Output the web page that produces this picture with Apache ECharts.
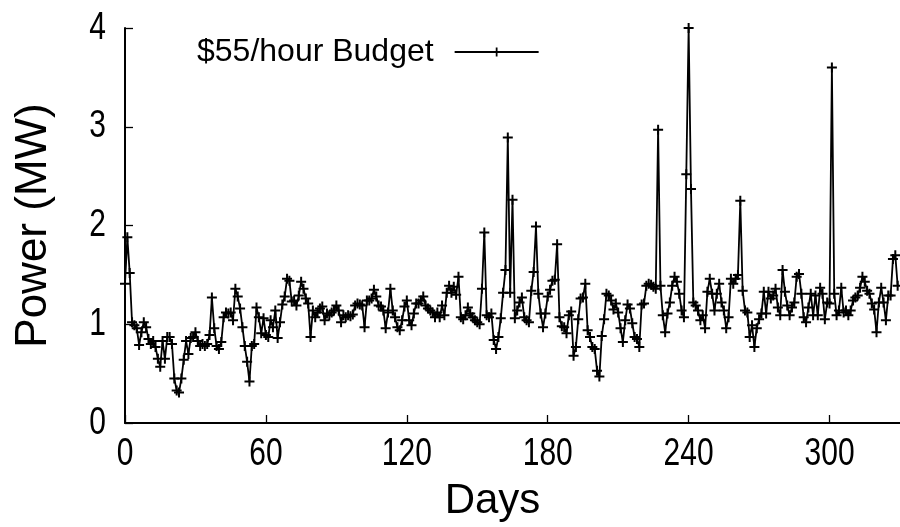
<!DOCTYPE html>
<html>
<head>
<meta charset="utf-8">
<script src="https://cdn.jsdelivr.net/npm/echarts@6/dist/echarts.min.js"></script>
<style>
  html, body { margin: 0; padding: 0; background: #ffffff; }
  #chart { width: 900px; height: 527px; }
</style>
</head>
<body>
<div id="chart"></div>
<script>
// Daily power draw (MW) under a $55/hour electricity budget, day 0 onward.
const seriesName = '$55/hour Budget';
const xAxisTitle = 'Days';
const yAxisTitle = 'Power (MW)';
const xTickStep = 60;
const yTickStep = 1;
const xTickLabels = ['0', '60', '120', '180', '240', '300'];
const yTickLabels = ['0', '1', '2', '3', '4'];

const power = [
  1.41, 1.88, 1.52, 1.02, 0.99, 0.96, 0.79, 0.92, 1.02, 0.97,
  0.85, 0.80, 0.83, 0.77, 0.65, 0.57, 0.83, 0.65, 0.87, 0.87,
  0.80, 0.45, 0.33, 0.31, 0.45, 0.64, 0.83, 0.70, 0.86, 0.87,
  0.92, 0.83, 0.78, 0.80, 0.78, 0.80, 0.89, 1.27, 0.96, 0.78,
  0.75, 0.82, 1.07, 1.12, 1.11, 1.12, 1.04, 1.36, 1.28, 1.16,
  0.97, 0.78, 0.62, 0.42, 0.78, 0.80, 1.17, 1.07, 0.91, 1.06,
  0.89, 0.87, 1.04, 0.97, 1.14, 0.86, 1.02, 1.20, 1.28, 1.46,
  1.44, 1.23, 1.24, 1.19, 1.29, 1.43, 1.36, 1.26, 1.21, 0.87,
  1.14, 1.07, 1.12, 1.16, 1.18, 1.04, 1.11, 1.09, 1.12, 1.14,
  1.19, 1.14, 1.02, 1.09, 1.07, 1.09, 1.08, 1.10, 1.19, 1.21,
  1.20, 1.19, 0.97, 1.24, 1.24, 1.26, 1.35, 1.28, 1.19, 1.18,
  1.14, 0.96, 1.12, 1.36, 1.14, 1.07, 0.97, 0.94, 1.04, 1.18,
  1.24, 1.04, 0.99, 1.11, 1.21, 1.21, 1.24, 1.28, 1.19, 1.16,
  1.14, 1.12, 1.07, 1.12, 1.07, 1.19, 1.09, 1.32, 1.39, 1.32,
  1.38, 1.30, 1.48, 1.07, 1.05, 1.09, 1.17, 1.11, 1.07, 1.04,
  1.02, 1.00, 1.36, 1.93, 1.09, 1.07, 1.11, 0.84, 0.75, 0.87,
  1.06, 1.32, 1.55, 2.89, 1.32, 2.26, 1.06, 1.14, 1.22, 1.27,
  1.07, 1.04, 1.02, 1.34, 1.53, 1.99, 1.31, 1.11, 0.97, 1.11,
  1.28, 1.35, 1.44, 1.45, 1.81, 1.07, 0.98, 0.97, 0.91, 1.09,
  1.13, 0.68, 0.77, 1.05, 1.26, 1.27, 1.41, 0.94, 0.87, 0.77,
  0.75, 0.53, 0.47, 0.88, 1.05, 1.31, 1.29, 1.24, 1.15, 1.21,
  1.12, 0.96, 0.82, 1.04, 1.20, 1.16, 1.01, 0.87, 0.85, 0.77,
  1.20, 1.21, 1.39, 1.41, 1.40, 1.38, 1.36, 2.97, 1.39, 1.09,
  0.92, 1.11, 1.22, 1.39, 1.48, 1.43, 1.31, 1.14, 1.07, 2.52,
  4.00, 2.37, 1.22, 1.19, 1.14, 1.04, 1.09, 0.96, 1.33, 1.46,
  1.31, 1.14, 1.31, 1.41, 1.22, 1.14, 0.96, 1.07, 1.46, 1.41,
  1.46, 1.50, 2.25, 1.34, 1.14, 1.12, 0.87, 0.99, 0.77, 0.96,
  1.05, 1.11, 1.33, 1.11, 1.33, 1.26, 1.29, 1.36, 1.17, 1.09,
  1.55, 1.33, 1.19, 1.09, 1.17, 1.22, 1.48, 1.51, 1.31, 1.07,
  1.02, 1.17, 1.31, 1.09, 1.29, 1.09, 1.37, 1.31, 1.05, 1.22,
  1.21, 3.60, 1.31, 1.09, 1.14, 1.37, 1.12, 1.14, 1.09, 1.14,
  1.24, 1.27, 1.29, 1.37, 1.48, 1.43, 1.34, 1.31, 1.21, 1.15,
  0.92, 1.22, 1.37, 1.22, 1.04, 1.29, 1.29, 1.66, 1.70, 1.39
];

const days = power.map((_, i) => i);
const xRange = [0, 330];
const yRange = [0, 4];

// "+" marker drawn as two filled bars
const plusMark = 'path://M0,4H10V6H0Z M4,0H6V10H4Z';
const font = "'Liberation Sans', Arial, Helvetica, sans-serif";
// tick numerals use a tall, narrow look
const tickStretch = 1.3;

const chart = echarts.init(document.getElementById('chart'), null, { renderer: 'canvas' });

chart.setOption({
  animation: false,
  backgroundColor: '#ffffff',
  grid: { left: 125, right: 0, top: 28, bottom: 104, containLabel: false },
  legend: {
    left: 192,
    top: 31,
    align: 'right',
    itemWidth: 84,
    itemHeight: 11,
    textStyle: { fontSize: 32, color: '#000', fontFamily: font, padding: [0, 16, 0, 0] },
    data: [seriesName]
  },
  xAxis: {
    type: 'value',
    min: xRange[0],
    max: xRange[1],
    interval: xTickStep,
    name: xAxisTitle,
    nameLocation: 'middle',
    nameGap: 57,
    nameTextStyle: { fontSize: 42, color: '#000', fontFamily: font, padding: [0, 40, 0, 0] },
    axisLine: { show: true, onZero: false, lineStyle: { color: '#000', width: 2 } },
    axisTick: { show: true, inside: true, length: 8, lineStyle: { color: '#000', width: 1.3 } },
    axisLabel: {
      fontSize: 30, color: '#000', fontFamily: font, margin: 12, showMaxLabel: false,
      formatter: v => xTickLabels[Math.round(v / xTickStep)] || ''
    },
    splitLine: { show: false }
  },
  yAxis: {
    type: 'value',
    min: yRange[0],
    max: yRange[1],
    interval: yTickStep,
    name: yAxisTitle,
    nameLocation: 'middle',
    nameGap: 69,
    nameTextStyle: { fontSize: 44, color: '#000', fontFamily: font },
    axisLine: { show: true, onZero: false, lineStyle: { color: '#000', width: 2 } },
    axisTick: { show: true, inside: true, length: 8, lineStyle: { color: '#000', width: 1.3 } },
    axisLabel: {
      fontSize: 30, color: '#000', fontFamily: font, margin: 19,
      formatter: v => yTickLabels[Math.round(v / yTickStep)] || ''
    },
    splitLine: { show: false }
  },
  series: [{
    name: seriesName,
    type: 'line',
    data: days.map((d, i) => [d, power[i]]),
    symbol: plusMark,
    symbolSize: 10,
    showSymbol: true,
    showAllSymbol: true,
    clip: true,
    itemStyle: { color: '#000' },
    lineStyle: { color: '#000', width: 1.8 }
  }]
});

// Stretch the axis tick numerals vertically about their anchor points.
const tickTexts = new Set([...xTickLabels, ...yTickLabels]);
let stretched = false;
function stretchTickLabels() {
  if (stretched) return;
  const zr = chart.getZr();
  const list = zr.storage.getDisplayList(true);
  let count = 0;
  list.forEach(el => {
    const txt = el.style && el.style.text;
    if (txt != null && tickTexts.has(String(txt))) {
      el.scaleY = tickStretch;
      el.markRedraw();
      count++;
    }
  });
  if (count > 0) {
    stretched = true;
    zr.refresh();
  }
}
chart.on('finished', stretchTickLabels);
stretchTickLabels();
setTimeout(stretchTickLabels, 0);
</script>
</body>
</html>
